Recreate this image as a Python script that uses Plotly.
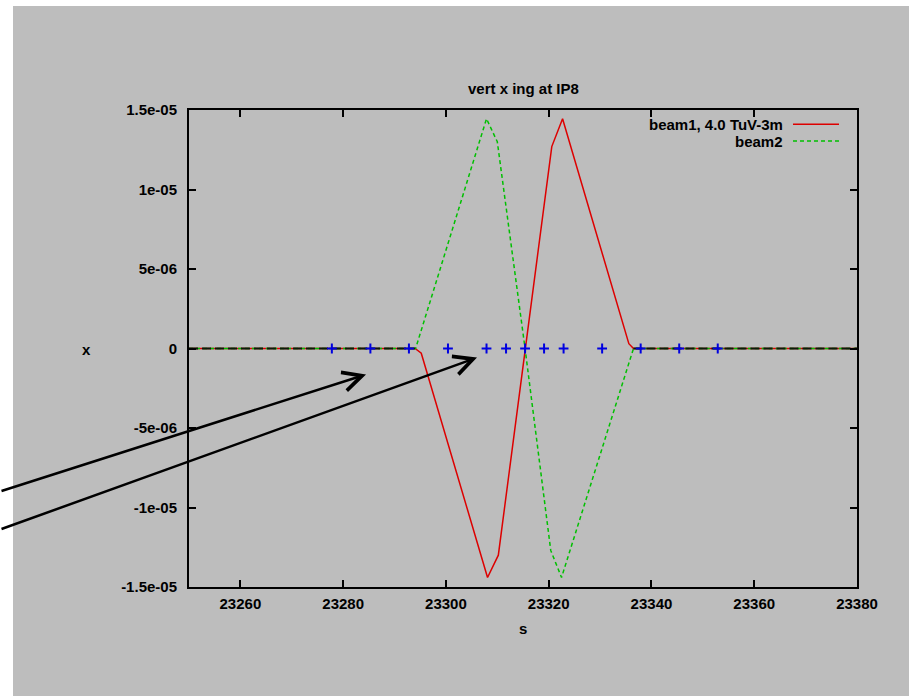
import plotly.graph_objects as go

# ---- data ----
s_beam1 = [23250, 23294.0, 23295.2, 23308.1, 23310.2, 23315.4, 23320.6, 23322.7, 23335.6, 23336.5, 23380]
x_beam1 = [0, 0, -3e-7, -1.44e-5, -1.30e-5, 0, 1.27e-5, 1.445e-5, 3e-7, 0, 0]

s_beam2 = [23250, 23294.1, 23307.9, 23310.0, 23315.4, 23320.4, 23322.5, 23336.5, 23380]
x_beam2 = [0, 0, 1.445e-5, 1.30e-5, 0, -1.27e-5, -1.44e-5, 0, 0]

s_elements = [23277.8, 23285.3, 23292.8, 23300.4, 23307.9, 23311.7, 23315.4,
              23319.1, 23322.9, 23330.4, 23337.9, 23345.4, 23352.9]
x_elements = [0] * len(s_elements)

x_tickvals = [23260, 23280, 23300, 23320, 23340, 23360, 23380]
x_ticktext = ["23260", "23280", "23300", "23320", "23340", "23360", "23380"]
y_tickvals = [1.5e-05, 1e-05, 5e-06, 0, -5e-06, -1e-05, -1.5e-05]
y_ticktext = ["1.5e-05", "1e-05", "5e-06", "0", "-5e-06", "-1e-05", "-1.5e-05"]

legend_labels = ["beam1, 4.0 TuV-3m", "beam2"]
arrow_targets_s = [23284.45, 23306.05]
arrow_targets_x = [-1.63e-6, -5.7e-7]

FONT = "Liberation Sans, Arial, Helvetica, sans-serif"
GREY = "#bdbdbd"
RED = "#dd0000"
GREEN = "#00c000"
BLUE = "#0000e0"

# flat (both beams on axis) stretches drawn as a dark dashed overlay
flat_y = [0 if v == 0 else None for v in x_beam1]

fig = go.Figure()
fig.add_trace(go.Scatter(x=s_beam1, y=x_beam1, mode="lines",
                         line=dict(color=RED, width=1.5), showlegend=False,
                         name=legend_labels[0]))
fig.add_trace(go.Scatter(x=s_beam2, y=x_beam2, mode="lines",
                         line=dict(color=GREEN, width=1.5, dash="4px,3px"),
                         showlegend=False, name=legend_labels[1]))
fig.add_trace(go.Scatter(x=s_beam1, y=flat_y, mode="lines", connectgaps=False,
                         line=dict(color="#0a1a0a", width=2, dash="9px,4px"),
                         showlegend=False, hoverinfo="skip"))
fig.add_trace(go.Scatter(x=s_elements, y=x_elements, mode="markers",
                         marker=dict(symbol="cross-thin", size=7,
                                     line=dict(color=BLUE, width=2)),
                         showlegend=False))

L, R, T, B = 189, 52, 110, 109
W, H = 909, 696
pw, ph = W - L - R, H - T - B


def px(xp):
    return (xp - L) / pw


def py(yp):
    return (H - B - yp) / ph


shapes = [
    dict(type="rect", xref="paper", yref="paper", x0=px(13), x1=px(W + 5),
         y0=py(H + 5), y1=py(6), fillcolor=GREY, line=dict(width=0), layer="below"),
    dict(type="line", xref="paper", yref="paper", x0=px(793), x1=px(839),
         y0=py(124.3), y1=py(124.3), line=dict(color=RED, width=1.5)),
    dict(type="line", xref="paper", yref="paper", x0=px(793), x1=px(839),
         y0=py(141), y1=py(141), line=dict(color=GREEN, width=1.5, dash="4px,3px")),
]

TXT = dict(size=15, color="black", family=FONT, weight="bold")
annotations = [
    dict(text="vert x ing at IP8", xref="paper", yref="paper", x=px(523), y=py(88),
         xanchor="center", yanchor="middle", showarrow=False, font=TXT),
    dict(text="s", xref="paper", yref="paper", x=px(523), y=py(628),
         xanchor="center", yanchor="middle", showarrow=False, font=TXT),
    dict(text="x", xref="paper", yref="paper", x=px(86), y=py(349),
         xanchor="center", yanchor="middle", showarrow=False, font=TXT),
    dict(text=legend_labels[0], xref="paper", yref="paper", x=px(785), y=py(124.3),
         xanchor="right", yanchor="middle", showarrow=False, font=TXT),
    dict(text=legend_labels[1], xref="paper", yref="paper", x=px(785), y=py(141),
         xanchor="right", yanchor="middle", showarrow=False, font=TXT),
]
tails = [(-380, 117), (-490, 172)]
for (s_t, x_t), (axo, ayo) in zip(zip(arrow_targets_s, arrow_targets_x), tails):
    annotations.append(dict(x=s_t, y=x_t, xref="x", yref="y", text="", showarrow=True,
                            ax=axo, ay=ayo, arrowhead=5, arrowsize=1.5, arrowwidth=2.5,
                            arrowcolor="black"))

fig.update_layout(
    width=W, height=H,
    margin=dict(l=L, r=R, t=T, b=B),
    paper_bgcolor="white",
    plot_bgcolor=GREY,
    shapes=shapes,
    annotations=annotations,
    font=dict(family=FONT, size=15, color="black"),
    showlegend=False,
)
axis_common = dict(showline=True, linecolor="black", linewidth=2, mirror="ticks",
                   ticks="inside", ticklen=7, tickwidth=1.5, tickcolor="black",
                   showgrid=False, zeroline=False,
                   tickfont=TXT)
fig.update_xaxes(range=[23250, 23380], tickvals=x_tickvals, ticktext=x_ticktext,
                 ticklabelstandoff=2, **axis_common)
fig.update_yaxes(range=[-1.5e-05, 1.5e-05], tickvals=y_tickvals, ticktext=y_ticktext,
                 ticklabelstandoff=7, **axis_common)

fig.write_html("out.html", config={"displayModeBar": False},
               post_script="document.body.style.margin='0';document.body.style.overflow='hidden';")
